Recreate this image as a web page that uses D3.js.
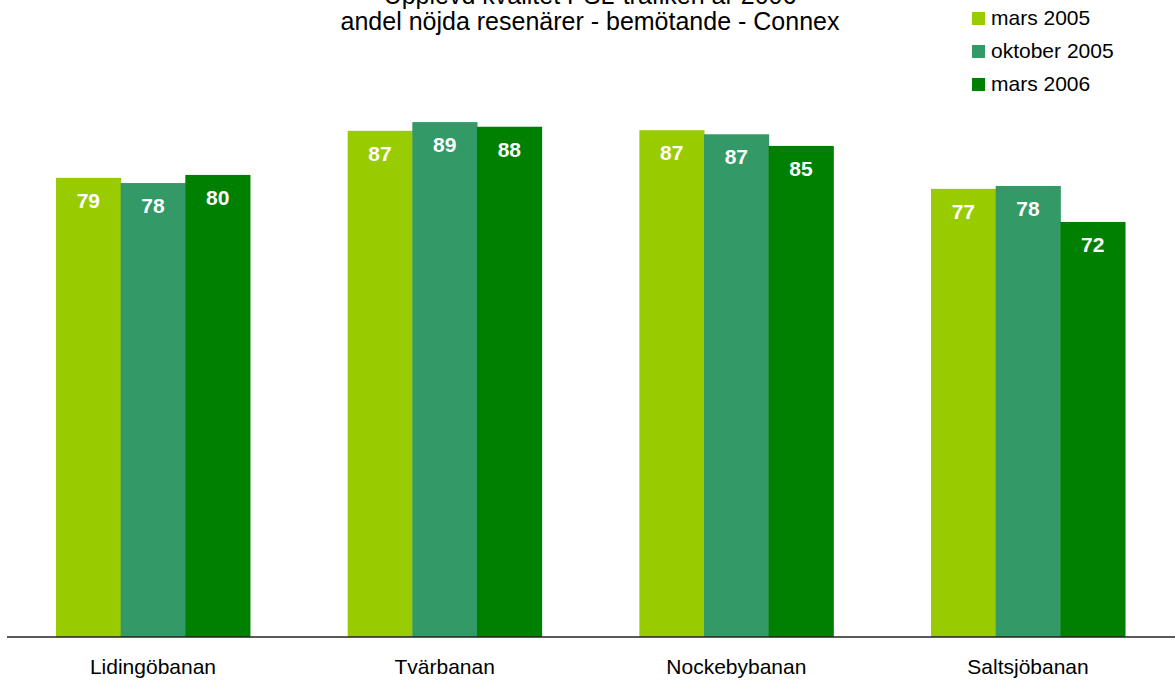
<!DOCTYPE html>
<html><head><meta charset="utf-8">
<script src="https://cdn.jsdelivr.net/npm/d3@7"></script>
<style>body{margin:0;background:#fff}svg{display:block;font-family:"Liberation Sans",Arial,sans-serif}</style>
</head><body>
<svg id="c" width="1175" height="681"></svg>
<script>
const categories = ["Lidingöbanan", "Tvärbanan", "Nockebybanan", "Saltsjöbanan"];
const seriesNames = ["mars 2005", "oktober 2005", "mars 2006"];
const mars2005 = [79.1, 87.2, 87.3, 77.2];
const oktober2005 = [78.2, 88.7, 86.6, 77.7];
const mars2006 = [79.6, 87.9, 84.6, 71.5];
const colors = ["#99CC00", "#339966", "#008000"];
const titleLines = ["Upplevd kvalitet PSL-trafiken år 2006", "andel nöjda resenärer - bemötande - Connex"];

const series = [mars2005, oktober2005, mars2006];
const svg = d3.select("#c");
const x0 = d3.scaleBand().domain(categories).range([7, 1174]).paddingInner(0.335).paddingOuter(0.168);
const x1 = d3.scaleBand().domain(seriesNames).range([0, x0.bandwidth()]);
const y = d3.scaleLinear().domain([0, 100]).range([637, 56.5]);

const g = svg.append("g");
categories.forEach((c, i) => {
  seriesNames.forEach((s, j) => {
    const v = series[j][i];
    g.append("rect").attr("x", x0(c) + x1(s)).attr("y", y(v))
      .attr("width", x1.bandwidth()+0.5).attr("height", y(0) - y(v)).attr("fill", colors[j]);
    g.append("text").attr("x", x0(c) + x1(s) + x1.bandwidth()/2).attr("y", y(v) + 30)
      .attr("text-anchor", "middle").attr("fill", "#fff").attr("font-weight", "bold")
      .attr("font-size", 21).text(Math.round(v));
  });
});

const axis = d3.axisBottom(x0).tickSize(0).tickPadding(22);
const ax = svg.append("g").attr("transform", "translate(0,637)").call(axis);
ax.select(".domain").attr("stroke", "#222").attr("stroke-width", 1.3).attr("d", "M7,0H1175");
ax.selectAll("text").attr("font-size", 21).attr("fill", "#000").attr("font-family", "Liberation Sans, Arial, sans-serif");

titleLines.forEach((t, i) => {
  svg.append("text").attr("x", 590).attr("y", 4 + i * 26).attr("text-anchor", "middle")
    .attr("font-size", 25).attr("fill", "#000").text(t);
});

seriesNames.forEach((s, i) => {
  const ly = 12 + i * 33;
  svg.append("rect").attr("x", 972).attr("y", ly).attr("width", 13).attr("height", 13).attr("fill", colors[i]);
  svg.append("text").attr("x", 991).attr("y", ly + 13).attr("font-size", 21).attr("fill", "#000").text(s);
});
</script>
</body></html>
